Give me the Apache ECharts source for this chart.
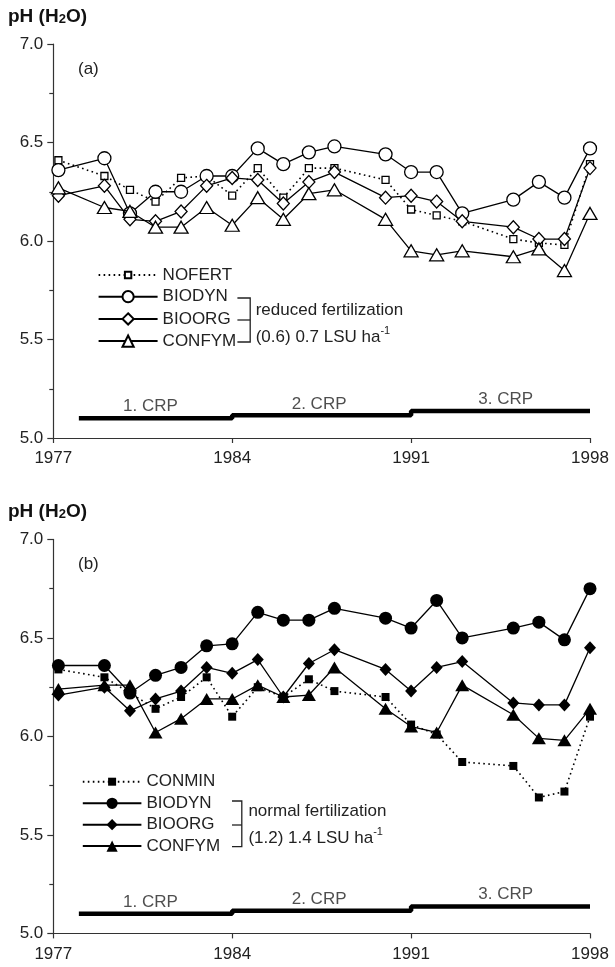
<!DOCTYPE html>
<html><head><meta charset="utf-8">
<script src="https://cdn.jsdelivr.net/npm/echarts@6/dist/echarts.min.js"></script>
<style>html,body{margin:0;padding:0;background:#fff}#c{width:615px;height:967px}</style>
</head><body><div id="c"></div>
<script>
// ---- data ----
const years = [1977.2,1979,1980,1981,1982,1983,1984,1985,1986,1987,1988,1990,1991,1992,1993,1995,1996,1997,1998];
const xTickYears = [1977,1984,1991,1998];
// panel (a) reduced fertilization
const nofertA = [6.41,6.33,6.26,6.20,6.32,6.33,6.23,6.37,6.22,6.37,6.37,6.31,6.16,6.13,6.10,6.01,5.99,5.98,6.39];
const biodynA = [6.36,6.42,6.14,6.25,6.25,6.33,6.33,6.47,6.39,6.45,6.48,6.44,6.35,6.35,6.14,6.21,6.30,6.22,6.47];
const bioorgA = [6.23,6.28,6.11,6.10,6.15,6.28,6.32,6.31,6.19,6.30,6.35,6.22,6.23,6.20,6.10,6.07,6.01,6.01,6.37];
const confymA = [6.27,6.17,6.15,6.07,6.07,6.17,6.08,6.22,6.11,6.24,6.26,6.11,5.95,5.93,5.95,5.92,5.96,5.85,6.14];
// panel (b) normal fertilization
const conminB = [6.34,6.30,6.22,6.14,6.20,6.30,6.10,6.25,6.20,6.29,6.23,6.20,6.06,6.01,5.87,5.85,5.69,5.72,6.10];
const biodynB = [6.36,6.36,6.22,6.31,6.35,6.46,6.47,6.63,6.59,6.59,6.65,6.60,6.55,6.69,6.50,6.55,6.58,6.49,6.75];
const bioorgB = [6.21,6.25,6.13,6.19,6.23,6.35,6.32,6.39,6.20,6.37,6.44,6.34,6.23,6.35,6.38,6.17,6.16,6.16,6.45];
const confymB = [6.24,6.26,6.26,6.02,6.09,6.19,6.19,6.26,6.20,6.21,6.35,6.14,6.05,6.02,6.26,6.11,5.99,5.98,6.14];
// crop rotation periods (step bars)
const crpYears = [1978,1984,1991,1998];
const crpLevels = [5.10,5.115,5.137,5.137];
const crpNames = ['1. CRP','2. CRP','3. CRP'];
const crpLabelYears = [1980.8,1987.4,1994.7];
const crpLabelLevels = [5.16,5.172,5.198];

const FONT = '"Liberation Sans", Arial, sans-serif';
const TXT = '#222';
const pts = arr => years.map((y,i)=>[y,arr[i]]);

function axesFor(idx){
  return {
    x: {type:'value', gridIndex:idx, min:1977, max:1998,
      axisLine:{lineStyle:{color:'#333',width:1.2}},
      axisTick:{show:true, customValues:xTickYears, length:5, lineStyle:{color:'#333',width:1.2}},
      axisLabel:{customValues:xTickYears, fontSize:17, color:TXT, fontFamily:FONT, margin:12, formatter:v=>String(v)},
      splitLine:{show:false}},
    y: {type:'value', gridIndex:idx, min:5, max:7, interval:0.5,
      axisLine:{show:true, lineStyle:{color:'#333',width:1.2}},
      axisTick:{show:true, length:6, lineStyle:{color:'#333',width:1.2}},
      minorTick:{show:true, splitNumber:2, length:4, lineStyle:{color:'#333',width:1.2}},
      axisLabel:{fontSize:17, color:TXT, fontFamily:FONT, margin:10, formatter:v=>v.toFixed(1)},
      splitLine:{show:false}}
  };
}
const ax0 = axesFor(0), ax1 = axesFor(1);

function ser(name, idx, arr, symbol, size, filled, dotted, z){
  return {
    name, type:'line', xAxisIndex:idx, yAxisIndex:idx, data:pts(arr),
    symbol, symbolSize:size, showAllSymbol:true, z,
    itemStyle:{color: filled ? '#000' : '#fff', borderColor:'#000', borderWidth: filled?0:1.3},
    lineStyle: dotted ? {color:'#000', width:1.6, type:[1.6,3.4]} : {color:'#000', width:1.3},
    emphasis:{disabled:true}
  };
}
function crpSeries(idx){
  return [{
    type:'line', xAxisIndex:idx, yAxisIndex:idx, step:'end', symbol:'none', z:1,
    data: crpYears.map((y,i)=>[y,crpLevels[i]]),
    lineStyle:{color:'#000', width:4.5, cap:'butt'}, emphasis:{disabled:true}
  },{
    type:'scatter', xAxisIndex:idx, yAxisIndex:idx, symbolSize:0, z:1,
    data: crpNames.map((n,i)=>({name:n, value:[crpLabelYears[i], crpLabelLevels[i]]})),
    label:{show:true, position:'inside', formatter:p=>p.name, fontSize:17, color:TXT, fontFamily:FONT},
    emphasis:{disabled:true}
  }];
}

const series = [
  ser('NOFERT',0,nofertA,'rect',7,false,true,2),
  ser('BIODYN',0,biodynA,'circle',13,false,false,3),
  ser('BIOORG',0,bioorgA,'diamond',[12,13],false,false,4),
  ser('CONFYM',0,confymA,'triangle',[14,12],false,false,5),
  ser('CONMIN (b)',1,conminB,'rect',8,true,true,2),
  ser('BIODYN (b)',1,biodynB,'circle',13,true,false,3),
  ser('BIOORG (b)',1,bioorgB,'diamond',[12,13],true,false,4),
  ser('CONFYM (b)',1,confymB,'triangle',[14,12],true,false,5),
  ...crpSeries(0), ...crpSeries(1)
];

const legBase = {selectedMode:false, padding:0, orient:'vertical',
  textStyle:{fontSize:17, color:TXT, fontFamily:FONT, lineHeight:20},
  formatter: n => n.replace(' (b)','')};

function txt(x,y,text,extra){
  return Object.assign({type:'text', x, y, style:Object.assign({text, fontSize:17, fill:TXT, fontFamily:FONT, align:'left', verticalAlign:'middle'}, extra||{})});
}
function phLabel(y){
  return {type:'text', x:8, y, style:{
    text:'{a|pH (H}{s|2}{a|O)}', verticalAlign:'middle', align:'left',
    rich:{a:{fontSize:19, fontWeight:'bold', fontFamily:FONT, fill:'#111', lineHeight:22, verticalAlign:'bottom'},
          s:{fontSize:13, fontWeight:'bold', fontFamily:FONT, fill:'#111', lineHeight:8, verticalAlign:'bottom'}}}};
}
function lsuLabel(x,y,t){
  return {type:'text', x, y, style:{
    text:'{n|'+t+'}{p|-1}', verticalAlign:'middle', align:'left',
    rich:{n:{fontSize:17, fontFamily:FONT, fill:TXT, lineHeight:20, verticalAlign:'bottom'},
          p:{fontSize:11, fontFamily:FONT, fill:TXT, lineHeight:11, verticalAlign:'top'}}}};
}
function bracket(x0,x1,yt,ym,yb){
  return [
    {type:'polyline', shape:{points:[[x0,yt],[x1,yt],[x1,yb],[x0,yb]]}, style:{stroke:'#222', lineWidth:1.3, fill:null}},
    {type:'line', shape:{x1:x0,y1:ym,x2:x1,y2:ym}, style:{stroke:'#222', lineWidth:1.3}}
  ];
}

const option = {
  animation:false,
  backgroundColor:'#fff',
  grid:[{left:53.3, top:44, width:536.7, height:394},{left:53.3, top:539.4, width:536.7, height:394}],
  xAxis:[ax0.x, ax1.x],
  yAxis:[ax0.y, ax1.y],
  legend:[
    Object.assign({}, legBase, {data:['NOFERT'], left:97.6, top:265, itemWidth:59, itemHeight:8}),
    Object.assign({}, legBase, {data:['BIODYN','BIOORG','CONFYM'], left:97.6, top:286.7, itemWidth:59, itemHeight:14, itemGap:2.2}),
    Object.assign({}, legBase, {data:['CONMIN (b)'], left:81.8, top:771.7, itemWidth:58.6, itemHeight:10}),
    Object.assign({}, legBase, {data:['BIODYN (b)','BIOORG (b)','CONFYM (b)'], left:81.8, top:793.3, itemWidth:58.6, itemHeight:14, itemGap:1.4})
  ],
  graphic:[
    phLabel(15), phLabel(510.4),
    txt(78,69,'(a)'), txt(78,564.4,'(b)'),
    ...bracket(237.4,250.2,298,320,342),
    txt(255.7,310,'reduced fertilization'),
    lsuLabel(255.7,335.7,'(0.6) 0.7 LSU ha'),
    ...bracket(232,241.8,801,825,846.7),
    txt(248.4,811,'normal fertilization'),
    lsuLabel(248.4,836.7,'(1.2) 1.4 LSU ha')
  ],
  series
};
const chart = echarts.init(document.getElementById('c'), null, {renderer:'canvas'});
chart.setOption(option);
</script></body></html>
